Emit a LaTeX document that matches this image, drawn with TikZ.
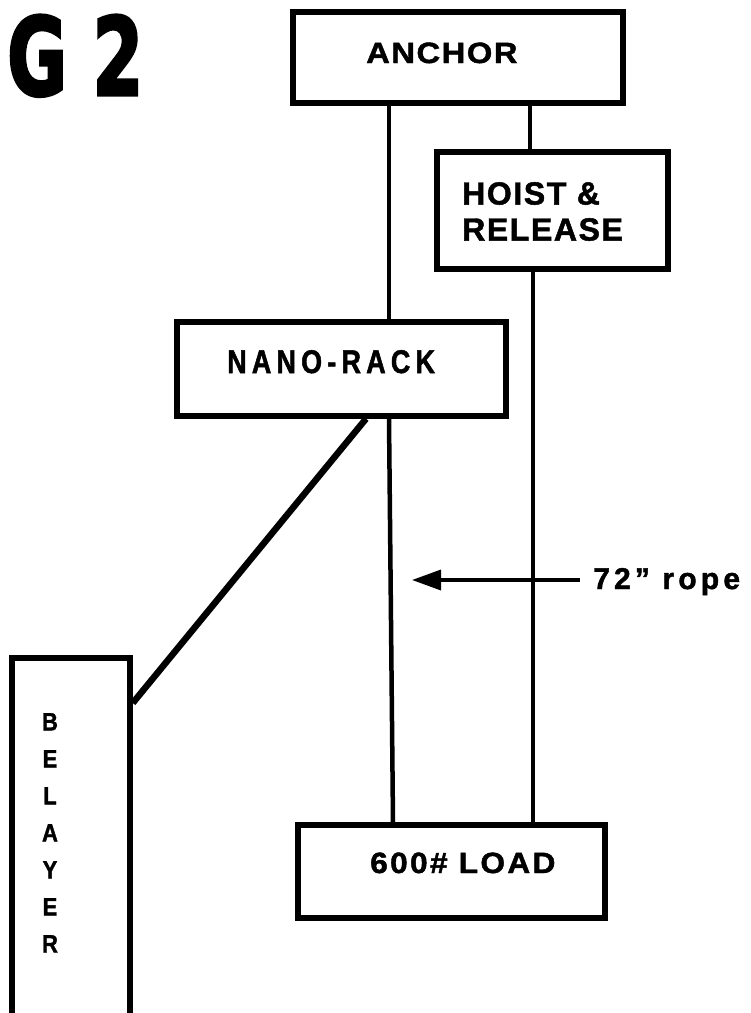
\documentclass[tikz,border=0pt]{standalone}
\usepackage{fontspec}
\setmainfont{Liberation Sans}
\newfontfamily\gfont{DejaVu Sans}
\usetikzlibrary{arrows.meta}
\begin{document}
\begin{tikzpicture}[x=1pt,y=-1pt,
  box/.style={draw=black,line width=5.5pt,inner sep=0pt,fill=white},
  lbl/.style={inner sep=0pt,text=black},
  rope/.style={draw=black,line width=4.5pt,line cap=butt},
  diag/.style={draw=black,line width=6.5pt,line cap=butt},
  arrowline/.style={draw=black,line width=3.5pt,-{Triangle[length=29pt,width=20pt]}}]
\useasboundingbox (0,0) rectangle (751,1013);
\fill[white] (0,0) rectangle (751,1013);
\clip (0,0) rectangle (751,1013);
\node[box,minimum width=330pt,minimum height=91pt] (anchor) at (458,57.5) {};
\node[box,minimum width=231pt,minimum height=117pt] (hoist) at (552.5,210.5) {};
\node[box,minimum width=329pt,minimum height=94pt] (nano) at (341.5,369) {};
\node[box,minimum width=307pt,minimum height=93pt] (load) at (451.5,871.5) {};
\node[box,minimum width=118pt,minimum height=382pt] (belayer) at (71,849) {};
\draw[rope] (389,0 |- anchor.south) -- (389,0 |- nano.north);
\draw[rope] (530,0 |- anchor.south) -- (530,0 |- hoist.north);
\draw[rope] (533,0 |- hoist.south) -- (533,0 |- load.north);
\draw[rope] (389,0 |- nano.south) -- (393,0 |- load.north);
\draw[diag] (366,0 |- nano.south) -- (belayer.east |- 0,703);
% labels
\node[lbl,anchor=base west,font={\bfseries\fontsize{29.3}{30}\selectfont\addfontfeature{FakeStretch=1.12,FakeBold=1.5,LetterSpace=5}}] (anchorlbl) at (366,63) {ANCHOR};
\node[lbl,anchor=west,align=left,font={\bfseries\fontsize{32}{36}\selectfont\addfontfeature{FakeBold=1.5,LetterSpace=5}}] (hoistlbl) at (462,211.5) {HOIST \&\\RELEASE};
\node[lbl,anchor=base west,font={\bfseries\fontsize{32.8}{34}\selectfont\addfontfeature{FakeStretch=0.82,FakeBold=1.5,LetterSpace=16}}] (nanolbl) at (227,373) {NANO-RACK};
\node[lbl,anchor=base west,font={\bfseries\fontsize{29.3}{30}\selectfont\addfontfeature{FakeStretch=1.08,FakeBold=1.5,LetterSpace=8}}] (loadlbl) at (370,873) {600\# LOAD};
\node[lbl,anchor=north,align=center,font={\bfseries\fontsize{25}{37}\selectfont\addfontfeature{FakeStretch=0.88,FakeBold=1.5}}] (belayerlbl) at (50,713) {B\\E\\L\\A\\Y\\E\\R};
\node[lbl,anchor=base west,font={\bfseries\fontsize{30}{32}\selectfont\addfontfeature{FakeBold=1.5,LetterSpace=14}}] (ropelbl) at (593,589) {72” rope};
\coordinate (ropetail) at (580,580);
\coordinate (ropetip) at (412,580);
\draw[arrowline] (ropetail) -- (ropetip);
\node[lbl,anchor=base west,font={\gfont\bfseries\addfontfeature{FakeBold=3}}] (title) at (7,95) {\resizebox{136pt}{80pt}{G 2}};
\end{tikzpicture}
\end{document}
